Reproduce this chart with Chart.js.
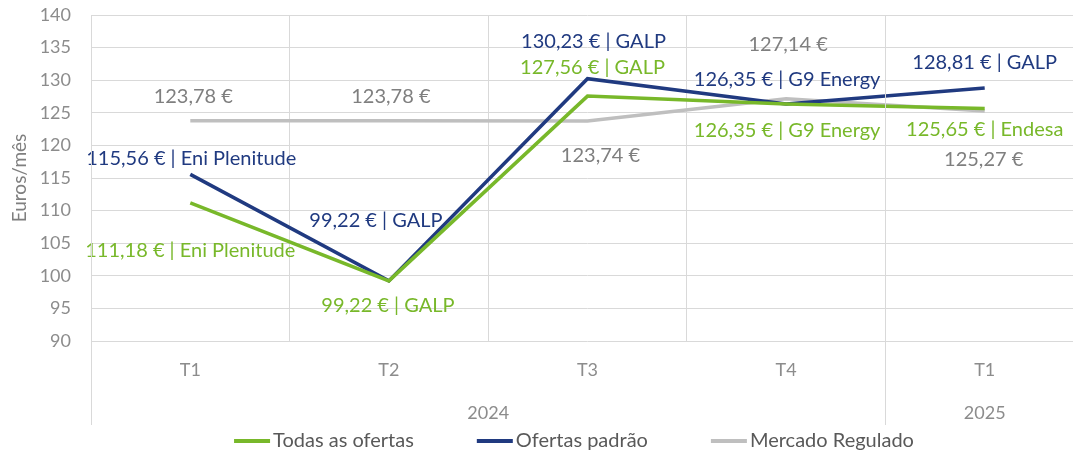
<!DOCTYPE html>
<html>
<head>
<meta charset="utf-8">
<script src="https://cdn.jsdelivr.net/npm/chart.js@4.4.1/dist/chart.umd.min.js"></script>
<style>
  html, body { margin: 0; padding: 0; background: #ffffff; overflow: hidden; }
  #wrap { position: relative; width: 1084px; height: 457px; }
</style>
</head>
<body>
<div id="wrap"><canvas id="c"></canvas></div>
<script>
// ---- data ----
const categories = ['T1', 'T2', 'T3', 'T4', 'T1'];
const yearGroups = ['2024', '2025'];
const yearSpans = [[0, 3], [4, 4]];
const todasOfertas = [111.18, 99.22, 127.56, 126.35, 125.65];
const ofertasPadrao = [115.56, 99.22, 130.23, 126.35, 128.81];
const mercadoRegulado = [123.78, 123.78, 123.74, 127.14, 125.27];
const todasSuppliers = ['Eni Plenitude', 'GALP', 'GALP', 'G9 Energy', 'Endesa'];
const padraoSuppliers = ['Eni Plenitude', 'GALP', 'GALP', 'G9 Energy', 'GALP'];
const regulatedSuppliers = ['', '', '', '', ''];

// ---- styles / label placement (pixel offsets from points) ----
const COLORS = { green: '#78B82A', navy: '#203A80', gray: '#BFBFBF' };
const labelStyle = [
  { color: '#78B82A', offsets: [[0, 48], [-1, 25], [5, -29], [1, 27], [0, 21]] },
  { color: '#203A80', offsets: [[1, -16], [-13, -60], [6, -37], [1, -24], [0, -25]] },
  { color: '#7F7F7F', offsets: [[3, -24], [2, -24], [13, 35], [2, -54], [-1, 49]] }
];
const FONT = 'Lato, "Open Sans", sans-serif';
const LEGEND = { centerX: 574, y: 441, lineLen: 36, textGap: 3, itemGap: 63, font: '20px ' + FONT, color: '#595959' };

function fmt(v, s) {
  const n = v.toFixed(2).replace('.', ',') + ' €';
  return s ? n + ' | ' + s : n;
}

const dataLabels = {
  id: 'dataLabels',
  afterDatasetsDraw(chart) {
    const ctx = chart.ctx;
    const suppliers = [todasSuppliers, padraoSuppliers, regulatedSuppliers];
    ctx.save();
    ctx.font = '20px ' + FONT;
    ctx.textAlign = 'center';
    ctx.textBaseline = 'middle';
    chart.data.datasets.forEach((ds, di) => {
      const meta = chart.getDatasetMeta(di);
      meta.data.forEach((pt, i) => {
        const off = labelStyle[di].offsets[i];
        ctx.fillStyle = labelStyle[di].color;
        ctx.fillText(fmt(ds.data[i], suppliers[di][i]), pt.x + off[0], pt.y + off[1]);
      });
    });
    ctx.restore();
  }
};

const groupAxis = {
  id: 'groupAxis',
  afterDraw(chart) {
    const x = chart.scales.x;
    const area = chart.chartArea;
    const ctx = chart.ctx;
    const half = (x.getPixelForValue(1) - x.getPixelForValue(0)) / 2;
    ctx.save();
    ctx.strokeStyle = '#D9D9D9';
    ctx.lineWidth = 1;
    ctx.font = '18px ' + FONT;
    ctx.fillStyle = '#8C8C8C';
    ctx.textAlign = 'center';
    ctx.textBaseline = 'middle';
    const bounds = [];
    yearSpans.forEach((sp, gi) => {
      const left = x.getPixelForValue(sp[0]) - half;
      const right = x.getPixelForValue(sp[1]) + half;
      bounds.push(left, right);
      ctx.fillText(yearGroups[gi], (left + right) / 2, area.bottom + 72);
    });
    [...new Set(bounds.map(b => Math.round(b)))].forEach(bx => {
      ctx.beginPath();
      ctx.moveTo(bx + 0.5, area.top);
      ctx.lineTo(bx + 0.5, area.bottom + 84);
      ctx.stroke();
    });
    ctx.restore();
  }
};

const bottomLegend = {
  id: 'bottomLegend',
  afterDraw(chart) {
    const ctx = chart.ctx;
    ctx.save();
    ctx.font = LEGEND.font;
    const items = chart.data.datasets.map(ds => ({ text: ds.label, color: ds.borderColor, w: ctx.measureText(ds.label).width }));
    const total = items.reduce((a, it) => a + LEGEND.lineLen + LEGEND.textGap + it.w, 0) + LEGEND.itemGap * (items.length - 1);
    let cx = LEGEND.centerX - total / 2;
    ctx.textBaseline = 'middle';
    ctx.textAlign = 'left';
    items.forEach(it => {
      ctx.strokeStyle = it.color;
      ctx.lineWidth = 4;
      ctx.beginPath();
      ctx.moveTo(cx, LEGEND.y);
      ctx.lineTo(cx + LEGEND.lineLen, LEGEND.y);
      ctx.stroke();
      ctx.fillStyle = LEGEND.color;
      ctx.fillText(it.text, cx + LEGEND.lineLen + LEGEND.textGap, LEGEND.y);
      cx += LEGEND.lineLen + LEGEND.textGap + it.w + LEGEND.itemGap;
    });
    ctx.restore();
  }
};

new Chart(document.getElementById('c'), {
  type: 'line',
  data: {
    labels: categories,
    datasets: [
      { label: 'Todas as ofertas', data: todasOfertas, borderColor: COLORS.green, backgroundColor: COLORS.green },
      { label: 'Ofertas padrão', data: ofertasPadrao, borderColor: COLORS.navy, backgroundColor: COLORS.navy },
      { label: 'Mercado Regulado', data: mercadoRegulado, borderColor: COLORS.gray, backgroundColor: COLORS.gray }
    ]
  },
  options: {
    responsive: true,
    maintainAspectRatio: false,
    animation: false,
    elements: {
      line: { borderWidth: 3.5, tension: 0, borderCapStyle: 'butt', borderJoinStyle: 'miter' },
      point: { radius: 0, hoverRadius: 0 }
    },
    layout: { padding: { top: 15, right: 0, bottom: 0, left: 0 } },
    plugins: {
      legend: { display: false },
      tooltip: { enabled: false },
      title: { display: false }
    },
    scales: {
      x: {
        offset: true,
        grid: { offset: true, color: '#D9D9D9', drawTicks: false },
        border: { display: false },
        ticks: { color: '#8C8C8C', font: { family: FONT, size: 18 }, padding: 18 },
        afterFit(s) { s.height = 116; }
      },
      y: {
        min: 90, max: 140,
        ticks: { stepSize: 5, color: '#8C8C8C', font: { family: FONT, size: 18 }, padding: 0 },
        grid: { color: '#D9D9D9', drawTicks: true, tickLength: 20, tickColor: 'rgba(0,0,0,0)' },
        border: { display: false },
        title: { display: true, text: 'Euros/mês', color: '#7F7F7F', font: { family: FONT, size: 19 }, padding: { top: 8, bottom: 4 } },
        afterFit(s) { s.width = 91; }
      }
    }
  },
  plugins: [dataLabels, groupAxis, bottomLegend]
});
</script>
</body>
</html>
